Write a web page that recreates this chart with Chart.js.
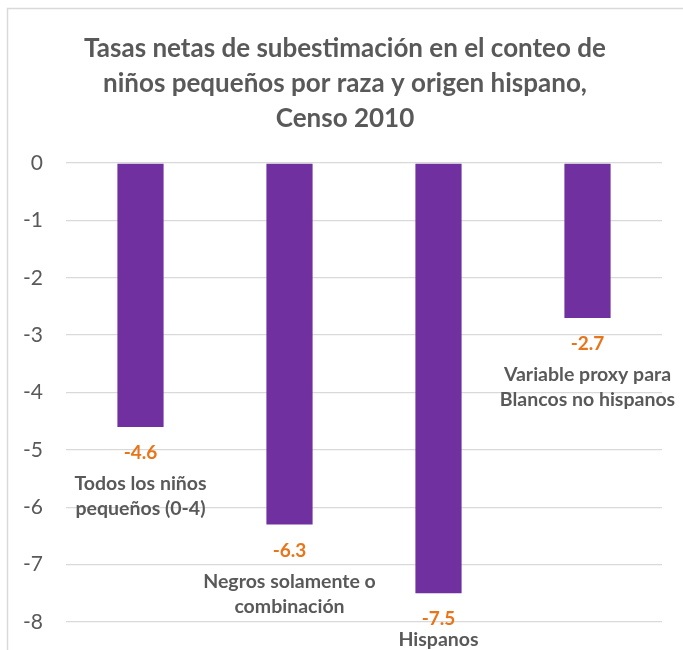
<!DOCTYPE html>
<html>
<head>
<meta charset="utf-8">
<script src="https://cdn.jsdelivr.net/npm/chart.js@4.4.1/dist/chart.umd.min.js"></script>
<style>
  html, body { margin: 0; padding: 0; background: #ffffff; }
  #wrap { width: 683px; height: 650px; position: relative; }
</style>
</head>
<body>
<div id="wrap"><canvas id="c" width="683" height="650"></canvas></div>
<script>
const titleLines = ["Tasas netas de subestimación en el conteo de", "niños pequeños por raza y origen hispano,", "Censo 2010"];
const categories = [
  ["Todos los niños", "pequeños (0-4)"],
  ["Negros solamente o", "combinación"],
  ["Hispanos"],
  ["Variable proxy para", "Blancos no hispanos"]
];
const values = [-4.6, -6.3, -7.5, -2.7];
const valueLabels = ["-4.6", "-6.3", "-7.5", "-2.7"];
const yMin = -8, yMax = 0, yStep = 1;

const FONT = "Lato, 'Open Sans', sans-serif";
const GRAY = "#595959";
const ORANGE = "#E8751A";
const PURPLE = "#7030A0";

const decorPlugin = {
  id: 'decor',
  beforeDraw(chart) {
    const ctx = chart.ctx;
    ctx.save();
    ctx.fillStyle = '#ffffff';
    ctx.fillRect(0, 0, chart.width, chart.height);
    ctx.strokeStyle = '#d9d9d9';
    ctx.lineWidth = 1.5;
    ctx.strokeRect(7.5, 8.5, 900, 900);
    ctx.fillStyle = GRAY;
    ctx.font = "bold 26px " + FONT;
    ctx.textAlign = 'center';
    ctx.textBaseline = 'middle';
    titleLines.forEach((t, i) => ctx.fillText(t, 345, 49 + i * 35));
    ctx.restore();
  },
  afterDatasetsDraw(chart) {
    const ctx = chart.ctx;
    const meta = chart.getDatasetMeta(0);
    ctx.save();
    ctx.textAlign = 'center';
    ctx.textBaseline = 'middle';
    meta.data.forEach((bar, i) => {
      const x = bar.x;
      const yVal = bar.y + 26;
      ctx.fillStyle = ORANGE;
      ctx.font = "bold 19px " + FONT;
      ctx.fillText(valueLabels[i], x, yVal);
      ctx.fillStyle = GRAY;
      ctx.font = "bold 19.5px " + FONT;
      categories[i].forEach((l, j) => {
        let y = yVal + 31 + j * 25;
        y = Math.min(y, chart.height - 10);
        ctx.fillText(l, x, y);
      });
    });
    ctx.restore();
  }
};

new Chart(document.getElementById('c'), {
  type: 'bar',
  data: {
    labels: categories.map(c => c.join(' ')),
    datasets: [{
      data: values,
      backgroundColor: PURPLE,
      borderWidth: 0,
      categoryPercentage: 1.0,
      barPercentage: 0.31
    }]
  },
  options: {
    responsive: false,
    animation: false,
    layout: { padding: { left: 0, right: 21, top: 163, bottom: 28 } },
    plugins: { legend: { display: false }, title: { display: false }, tooltip: { enabled: false } },
    scales: {
      x: { display: false },
      y: {
        min: yMin, max: yMax,
        ticks: { stepSize: yStep, color: GRAY, font: { family: FONT, size: 21 }, padding: 23 },
        grid: { color: '#d9d9d9', lineWidth: 1.3, drawTicks: false },
        border: { display: false },
        afterFit(scale) { scale.width = 66; scale.paddingTop = 0; scale.paddingBottom = 0; }
      }
    }
  },
  plugins: [decorPlugin]
});
</script>
</body>
</html>
